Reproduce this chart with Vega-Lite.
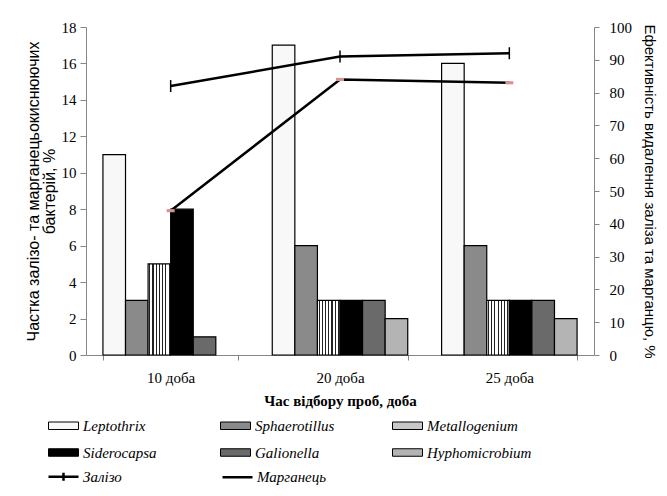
{
  "$schema": "https://vega.github.io/schema/vega-lite/v6.json",
  "width": 508,
  "height": 328,
  "autosize": {"type": "none"},
  "padding": {"left": 86, "top": 27, "right": 73, "bottom": 141},
  "background": "white",
  "config": {
    "view": {"stroke": null},
    "axis": {
      "labelFont": "'Liberation Serif', 'Times New Roman', serif",
      "labelFontSize": 15,
      "labelColor": "black",
      "domainColor": "#868686",
      "tickColor": "#868686",
      "grid": false,
      "titleColor": "black"
    }
  },
  "datasets": {
    "bars": [
      {"day": "10 доба", "species": "Leptothrix", "value": 11},
      {"day": "10 доба", "species": "Sphaerotillus", "value": 3},
      {"day": "10 доба", "species": "Metallogenium", "value": 5},
      {"day": "10 доба", "species": "Siderocapsa", "value": 8},
      {"day": "10 доба", "species": "Galionella", "value": 1},
      {"day": "20 доба", "species": "Leptothrix", "value": 17},
      {"day": "20 доба", "species": "Sphaerotillus", "value": 6},
      {"day": "20 доба", "species": "Metallogenium", "value": 3},
      {"day": "20 доба", "species": "Siderocapsa", "value": 3},
      {"day": "20 доба", "species": "Galionella", "value": 3},
      {"day": "20 доба", "species": "Hyphomicrobium", "value": 2},
      {"day": "25 доба", "species": "Leptothrix", "value": 16},
      {"day": "25 доба", "species": "Sphaerotillus", "value": 6},
      {"day": "25 доба", "species": "Metallogenium", "value": 3},
      {"day": "25 доба", "species": "Siderocapsa", "value": 3},
      {"day": "25 доба", "species": "Galionella", "value": 3},
      {"day": "25 доба", "species": "Hyphomicrobium", "value": 2}
    ],
    "lines": [
      {"day": "10 доба", "series": "Залізо", "value": 82},
      {"day": "20 доба", "series": "Залізо", "value": 91},
      {"day": "25 доба", "series": "Залізо", "value": 92},
      {"day": "10 доба", "series": "Марганець", "value": 44},
      {"day": "20 доба", "series": "Марганець", "value": 84},
      {"day": "25 доба", "series": "Марганець", "value": 83}
    ]
  },
  "layer": [
    {
      "data": {"name": "bars"},
      "mark": {"type": "bar", "stroke": "black", "strokeWidth": 1.2},
      "encoding": {
        "x": {
          "field": "day",
          "type": "nominal",
          "sort": ["10 доба", "20 доба", "25 доба"],
          "scale": {"paddingInner": 0.2, "paddingOuter": 0.1},
          "axis": {
            "title": "Час відбору проб, доба",
            "titleFont": "'Liberation Serif', 'Times New Roman', serif",
            "titleFontWeight": "bold",
            "titleFontSize": 15,
            "labelAngle": 0,
            "tickBand": "extent",
            "tickSize": 5,
            "labelPadding": 10,
            "titlePadding": 8
          }
        },
        "xOffset": {
          "field": "species",
          "type": "nominal",
          "sort": ["Leptothrix", "Sphaerotillus", "Metallogenium", "Siderocapsa", "Galionella", "Hyphomicrobium"],
          "scale": {
            "domain": ["Leptothrix", "Sphaerotillus", "Metallogenium", "Siderocapsa", "Galionella", "Hyphomicrobium"],
            "paddingInner": 0, "paddingOuter": 0
          }
        },
        "y": {
          "field": "value",
          "type": "quantitative",
          "scale": {"domain": [0, 18]},
          "axis": {
            "title": ["Частка залізо- та марганецьокиснюючих", "бактерій, %"],
            "titleFont": "'Liberation Sans', Arial, sans-serif",
            "titleFontSize": 16,
            "titleFontWeight": "normal",
            "titleLineHeight": 16,
            "values": [0, 2, 4, 6, 8, 10, 12, 14, 16, 18],
            "tickSize": 6,
            "labelPadding": 4,
            "titlePadding": 4
          }
        },
        "fill": {
          "condition": {
            "test": "datum.species === 'Metallogenium'",
            "value": {
              "gradient": "linear",
              "x1": 0, "y1": 0, "x2": 1, "y2": 0,
              "stops": [
                {"offset": 0, "color": "white"},
                {"offset": 0.05, "color": "white"}, {"offset": 0.05, "color": "#222"}, {"offset": 0.1, "color": "#222"}, {"offset": 0.1, "color": "white"},
                {"offset": 0.193, "color": "white"}, {"offset": 0.193, "color": "#222"}, {"offset": 0.243, "color": "#222"}, {"offset": 0.243, "color": "white"},
                {"offset": 0.336, "color": "white"}, {"offset": 0.336, "color": "#222"}, {"offset": 0.386, "color": "#222"}, {"offset": 0.386, "color": "white"},
                {"offset": 0.479, "color": "white"}, {"offset": 0.479, "color": "#222"}, {"offset": 0.529, "color": "#222"}, {"offset": 0.529, "color": "white"},
                {"offset": 0.621, "color": "white"}, {"offset": 0.621, "color": "#222"}, {"offset": 0.671, "color": "#222"}, {"offset": 0.671, "color": "white"},
                {"offset": 0.764, "color": "white"}, {"offset": 0.764, "color": "#222"}, {"offset": 0.814, "color": "#222"}, {"offset": 0.814, "color": "white"},
                {"offset": 0.907, "color": "white"}, {"offset": 0.907, "color": "#222"}, {"offset": 0.957, "color": "#222"}, {"offset": 0.957, "color": "white"},
                {"offset": 1, "color": "white"}
              ]
            }
          },
          "field": "species",
          "type": "nominal",
          "sort": ["Leptothrix", "Sphaerotillus", "Metallogenium", "Siderocapsa", "Galionella", "Hyphomicrobium"],
          "scale": {
            "domain": ["Leptothrix", "Sphaerotillus", "Metallogenium", "Siderocapsa", "Galionella", "Hyphomicrobium"],
            "range": ["#f8f8f8", "#8a8a8a", "#c8c8c8", "#000000", "#6a6a6a", "#b4b4b4"]
          },
          "legend": {
            "title": null,
            "orient": "none",
            "direction": "horizontal",
            "legendX": -40,
            "legendY": 391,
            "columns": 3,
            "gridAlign": "all",
            "columnPadding": 30,
            "rowPadding": 11,
            "symbolType": "M-1,-0.75H5V0.75H-1Z",
            "symbolSize": 100,
            "symbolStrokeColor": "black",
            "symbolStrokeWidth": 1,
            "labelOffset": 22,
            "labelFont": "'Liberation Serif', 'Times New Roman', serif",
            "labelFontStyle": "italic",
            "labelFontSize": 15,
            "labelColor": "black"
          }
        }
      }
    },
    {
      "data": {"name": "lines"},
      "encoding": {
        "x": {"field": "day", "type": "nominal", "sort": ["10 доба", "20 доба", "25 доба"]},
        "y": {
          "field": "value",
          "type": "quantitative",
          "scale": {"domain": [0, 100]},
          "axis": {
            "orient": "right",
            "title": "Ефективність видалення заліза та марганцю, %",
            "titleFont": "'Liberation Sans', Arial, sans-serif",
            "titleFontSize": 15,
            "titleFontWeight": "normal",
            "values": [0, 10, 20, 30, 40, 50, 60, 70, 80, 90, 100],
            "tickSize": 5,
            "labelPadding": 10,
            "titlePadding": 10
          }
        }
      },
      "layer": [
        {
          "mark": {"type": "line", "strokeWidth": 2.5},
          "encoding": {
            "stroke": {
              "field": "series",
              "type": "nominal",
              "sort": ["Залізо", "Марганець"],
              "scale": {"domain": ["Залізо", "Марганець"], "range": ["black", "black"]},
              "legend": {
                "title": null,
                "orient": "none",
                "direction": "horizontal",
                "legendX": -40,
                "legendY": 442,
                "columns": 3,
                "gridAlign": "all",
                "columnPadding": 64,
                "symbolType": "M-1,0H5",
                "symbolSize": 100,
                "symbolStrokeWidth": 2.5,
                "labelOffset": 22,
                "labelFont": "'Liberation Serif', 'Times New Roman', serif",
                "labelFontStyle": "italic",
                "labelFontSize": 15,
                "labelColor": "black",
                "encode": {
                  "symbols": {
                    "update": {
                      "shape": [
                        {"test": "datum.label === 'Залізо'", "value": "M-1,0H5M2,-0.8V0.8"},
                        {"value": "M-1,0H5"}
                      ]
                    }
                  }
                }
              }
            }
          }
        },
        {
          "transform": [{"filter": "datum.series === 'Залізо'"}],
          "mark": {"type": "point", "shape": "M0,-1V1", "size": 144, "stroke": "black", "strokeWidth": 1.5, "filled": false, "opacity": 1}
        },
        {
          "transform": [{"filter": "datum.series === 'Марганець'"}],
          "mark": {"type": "point", "shape": "M-1,-0.4H1V0.4H-1Z", "size": 64, "filled": true, "fill": "#d49494", "strokeWidth": 0, "opacity": 1}
        }
      ]
    }
  ],
  "resolve": {"scale": {"y": "independent"}}
}
